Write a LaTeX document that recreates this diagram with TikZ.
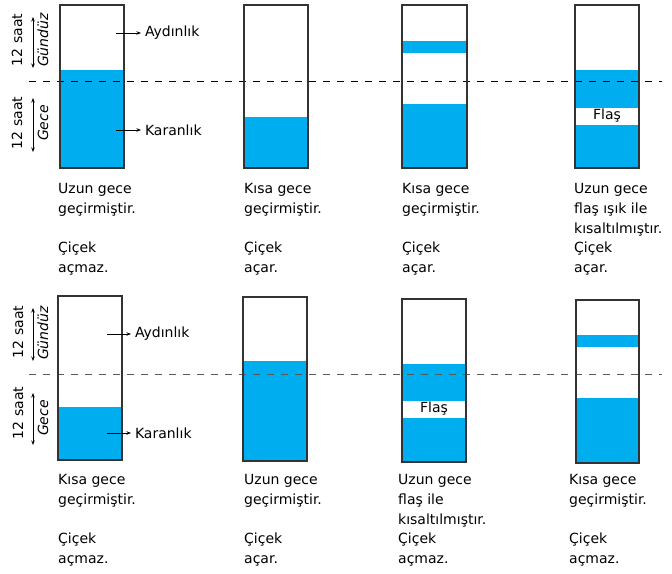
\documentclass[tikz,border=0pt]{standalone}
\usepackage{fontspec}
\setmainfont{DejaVu Sans}
\usepackage{xcolor}
\usetikzlibrary{
    arrows.meta,
    positioning
}
\definecolor{gecemavi}{RGB}{0,173,238}
\definecolor{kenar}{RGB}{51,51,51}
\tikzset{kutu/.style={draw=kenar, line width=1.1pt}}
\tikzset{gece/.style={fill=gecemavi}}
\tikzset{ayrac/.style={dash pattern=on 7pt off 7pt, line width=1pt}}
\tikzset{yazi/.style={inner sep=0pt, anchor=north west, align=left, font=\fontsize{14}{20}\selectfont}}
\tikzset{etiket/.style={inner sep=0pt, outer sep=4pt, anchor=west, font=\fontsize{14}{17}\selectfont}}
\tikzset{dikey/.style={inner sep=0pt, rotate=90, font=\fontsize{14}{17}\selectfont}}
\tikzset{ok/.style={-{Stealth[length=4.5pt, width=3.5pt]}, line width=0.7pt}}
\tikzset{cift/.style={{Stealth[length=4.5pt, width=3.5pt]}-{Stealth[length=4.5pt, width=3.5pt]}, line width=0.7pt}}

\begin{document}
\begin{tikzpicture}[x=1pt, y=-1pt]
    \useasboundingbox (0,0) rectangle (672,573);
    % ust sira
    \fill[gece] (60,70) rectangle (124,168);
    \fill[gece] (244,117) rectangle (308,168);
    \fill[gece] (402,41) rectangle (467,53);
    \fill[gece] (402,104) rectangle (467,168);
    \fill[gece] (575,70) rectangle (639,108);
    \fill[gece] (575,125) rectangle (639,168);
    \draw[ayrac, black] (29,81) -- (662,81);
    \draw[kutu] (60,5) rectangle (124,168);
    \draw[kutu] (244,5) rectangle (308,168);
    \draw[kutu] (402,5) rectangle (467,168);
    \draw[kutu] (575,5) rectangle (639,168);
    \node[inner sep=0pt, font=\fontsize{14}{17}\selectfont] (flas1) at (607,116) {Flaş};

    \coordinate (a1) at (116,33);
    \coordinate (k1) at (116,130);
    \node[etiket] (ayd1) at (141,33) {Aydınlık};
    \node[etiket] (kar1) at (141,130) {Karanlık};
    \draw[ok] (a1) -- (ayd1);
    \draw[ok] (k1) -- (kar1);

    \coordinate (g1a) at (33,17);
    \coordinate (g1b) at (33,68);
    \coordinate (c1a) at (33,98);
    \coordinate (c1b) at (33,152);
    \node[dikey] (saat1) at (17,40) {12 saat};
    \node[dikey, font=\fontsize{14}{17}\selectfont\itshape] (gunduz1) at (43,40) {Gündüz};
    \node[dikey] (saat2) at (17,123) {12 saat};
    \node[dikey, font=\fontsize{14}{17}\selectfont\itshape] (gece1) at (43,123) {Gece};
    \draw[cift] (g1a) -- (g1b);
    \draw[cift] (c1a) -- (c1b);

    \node[yazi] (u1) at (58,182.8) {Uzun gece\\geçirmiştir.};
    \node[yazi] (u2) at (244,182.8) {Kısa gece\\geçirmiştir.};
    \node[yazi] (u3) at (402,182.8) {Kısa gece\\geçirmiştir.};
    \node[yazi] (u4) at (574,182.8) {Uzun gece\\flaş ışık ile\\kısaltılmıştır.};
    \node[yazi] (s1) at (58,241.8) {Çiçek\\açmaz.};
    \node[yazi] (s2) at (244,241.8) {Çiçek\\açar.};
    \node[yazi] (s3) at (402,241.8) {Çiçek\\açar.};
    \node[yazi] (s4) at (574,241.8) {Çiçek\\açar.};

    % alt sira
    \fill[gece] (58,407) rectangle (122,460);
    \fill[gece] (243,361) rectangle (307,461);
    \fill[gece] (402,364) rectangle (466,401);
    \fill[gece] (402,418) rectangle (466,462);
    \fill[gece] (576,335) rectangle (639,347);
    \fill[gece] (576,398) rectangle (639,463);
    \draw[ayrac, black!65] (29,374) -- (662,374);
    \draw[kutu] (58,296) rectangle (122,460);
    \draw[kutu] (243,297) rectangle (307,461);
    \draw[kutu] (402,299) rectangle (466,462);
    \draw[kutu] (576,300) rectangle (639,463);
    \node[inner sep=0pt, font=\fontsize{14}{17}\selectfont] (flas2) at (434,409) {Flaş};

    \coordinate (a2) at (107,334);
    \coordinate (k2) at (107,433);
    \node[etiket] (ayd2) at (131,334) {Aydınlık};
    \node[etiket] (kar2) at (131,433) {Karanlık};
    \draw[ok] (a2) -- (ayd2);
    \draw[ok] (k2) -- (kar2);

    \coordinate (g2a) at (33,308);
    \coordinate (g2b) at (33,361);
    \coordinate (c2a) at (33,393);
    \coordinate (c2b) at (33,445);
    \node[dikey] (saat3) at (18,332) {12 saat};
    \node[dikey, font=\fontsize{14}{17}\selectfont\itshape] (gunduz2) at (43,333) {Gündüz};
    \node[dikey] (saat4) at (18,413) {12 saat};
    \node[dikey, font=\fontsize{14}{17}\selectfont\itshape] (gece2) at (43,418) {Gece};
    \draw[cift] (g2a) -- (g2b);
    \draw[cift] (c2a) -- (c2b);

    \node[yazi] (u5) at (58,473.8) {Kısa gece\\geçirmiştir.};
    \node[yazi] (u6) at (244,473.8) {Uzun gece\\geçirmiştir.};
    \node[yazi] (u7) at (398,473.8) {Uzun gece\\flaş ile\\kısaltılmıştır.};
    \node[yazi] (u8) at (569,473.8) {Kısa gece\\geçirmiştir.};
    \node[yazi] (s5) at (58,532.8) {Çiçek\\açmaz.};
    \node[yazi] (s6) at (244,532.8) {Çiçek\\açar.};
    \node[yazi] (s7) at (398,532.8) {Çiçek\\açmaz.};
    \node[yazi] (s8) at (569,532.8) {Çiçek\\açmaz.};
\end{tikzpicture}
\end{document}
